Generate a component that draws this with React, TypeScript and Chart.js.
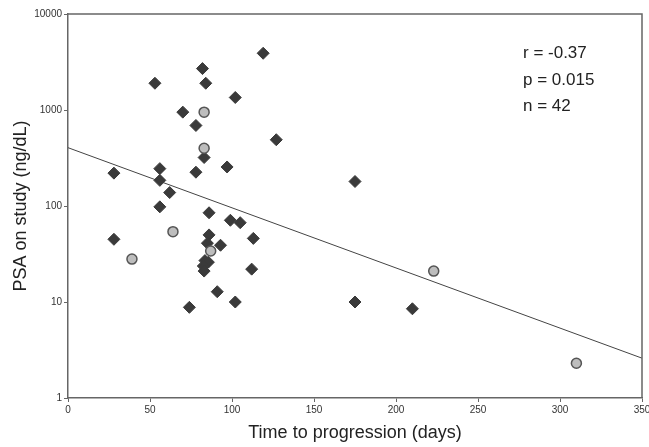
import React, { useEffect, useRef } from "react";
import { Chart, registerables } from "chart.js";

Chart.register(...registerables);

// Data
const diamondDays = [53, 82, 84, 70, 78, 83, 28, 56, 56, 62, 78, 119, 102, 127, 97, 56, 28, 74, 86, 99, 105, 113, 86, 85, 93, 83.5, 85.6, 82.5, 83, 112, 91, 102, 175, 175, 210];
const diamondPSA = [1900, 2700, 1900, 950, 690, 320, 220, 245, 185, 138, 225, 3900, 1350, 490, 255, 98, 45, 8.8, 85, 71, 67, 46, 50, 41, 39, 27, 26, 23.7, 21, 22, 12.8, 10, 180, 10, 8.5];
const circleDays = [83, 83, 64, 39, 87, 223, 310];
const circlePSA = [950, 400, 54, 28, 34, 21, 2.3];
const fitDays = [0, 350];
const fitPSA = [405, 2.6];
const xTicks = [0, 50, 100, 150, 200, 250, 300, 350];
const yTicks = [1, 10, 100, 1000, 10000];
const statLines = ["r = -0.37", "p = 0.015", "n = 42"];
const xTitle = "Time to progression (days)";
const yTitle = "PSA on study (ng/dL)";

const FONT = "'Liberation Sans', Arial, Helvetica, sans-serif";

export default function App() {
  const ref = useRef<HTMLCanvasElement | null>(null);

  useEffect(() => {
    const canvas = ref.current;
    if (!canvas) return;

    const framePlugin = {
      id: "frame",
      afterDraw(chart: any) {
        const { ctx, chartArea } = chart;
        ctx.save();
        ctx.strokeStyle = "#666";
        ctx.lineWidth = 1.5;
        ctx.beginPath();
        ctx.moveTo(chartArea.left, chartArea.top);
        ctx.lineTo(chartArea.right, chartArea.top);
        ctx.lineTo(chartArea.right, chartArea.bottom);
        ctx.stroke();
        ctx.restore();
      },
    };

    const statsPlugin = {
      id: "stats",
      afterDraw(chart: any) {
        const { ctx, chartArea } = chart;
        ctx.save();
        ctx.fillStyle = "#222";
        ctx.font = `17px ${FONT}`;
        ctx.textAlign = "left";
        ctx.textBaseline = "alphabetic";
        const x = chartArea.right - 119;
        statLines.forEach((t, i) => {
          ctx.fillText(t, x, chartArea.top + 44 + i * 26.5);
        });
        ctx.restore();
      },
    };

    const chart = new Chart(canvas, {
      type: "scatter",
      data: {
        datasets: [
          {
            type: "line",
            data: fitDays.map((d, i) => ({ x: d, y: fitPSA[i] })),
            borderColor: "#444",
            borderWidth: 1,
            pointRadius: 0,
            fill: false,
            order: 3,
          } as any,
          {
            data: diamondDays.map((d, i) => ({ x: d, y: diamondPSA[i] })),
            pointStyle: "rectRot",
            pointRadius: 6,
            backgroundColor: "#3a3a3a",
            borderColor: "#3a3a3a",
            borderWidth: 1,
            order: 2,
          },
          {
            data: circleDays.map((d, i) => ({ x: d, y: circlePSA[i] })),
            pointStyle: "circle",
            pointRadius: 5,
            backgroundColor: "#bdbdbd",
            borderColor: "#555",
            borderWidth: 1.5,
            order: 1,
          },
        ],
      },
      options: {
        responsive: false,
        animation: false,
        devicePixelRatio: 1,
        layout: { padding: { top: 14, right: 7, left: 0, bottom: 0 } },
        plugins: { legend: { display: false }, tooltip: { enabled: false } },
        scales: {
          x: {
            type: "linear",
            min: 0,
            max: 350,
            afterBuildTicks: (s: any) => {
              s.ticks = xTicks.map((v) => ({ value: v }));
            },
            afterFit: (s: any) => {
              s.height = 49;
              s.paddingLeft = 0;
              s.paddingRight = 0;
            },
            ticks: {
              font: { size: 10, family: FONT },
              color: "#333",
              padding: 2,
              maxRotation: 0,
              autoSkip: false,
            },
            grid: { drawOnChartArea: false, tickLength: 4, color: "#666" },
            border: { display: true, color: "#666", width: 1.5 },
            title: {
              display: true,
              text: xTitle,
              font: { size: 18, family: FONT },
              color: "#222",
              padding: { top: 4, bottom: 3 },
            },
          },
          y: {
            type: "logarithmic",
            min: 1,
            max: 10000,
            afterBuildTicks: (s: any) => {
              s.ticks = yTicks.map((v) => ({ value: v }));
            },
            afterFit: (s: any) => {
              s.width = 68;
              s.paddingTop = 0;
              s.paddingBottom = 0;
            },
            ticks: {
              font: { size: 10, family: FONT },
              color: "#333",
              padding: 2,
              autoSkip: false,
              callback: (v: any) => String(v),
            },
            grid: { drawOnChartArea: false, tickLength: 4, color: "#666" },
            border: { display: true, color: "#666", width: 1.5 },
            title: {
              display: true,
              text: yTitle,
              font: { size: 18, family: FONT },
              color: "#222",
              padding: { top: 10, bottom: 0 },
            },
          },
        },
      },
      plugins: [framePlugin, statsPlugin],
    } as any);

    return () => chart.destroy();
  }, []);

  return (
    <div style={{ position: "fixed", left: 0, top: 0, width: 649, height: 447, background: "#fff" }}>
      <canvas ref={ref} width={649} height={447} style={{ width: 649, height: 447, display: "block" }} />
    </div>
  );
}
